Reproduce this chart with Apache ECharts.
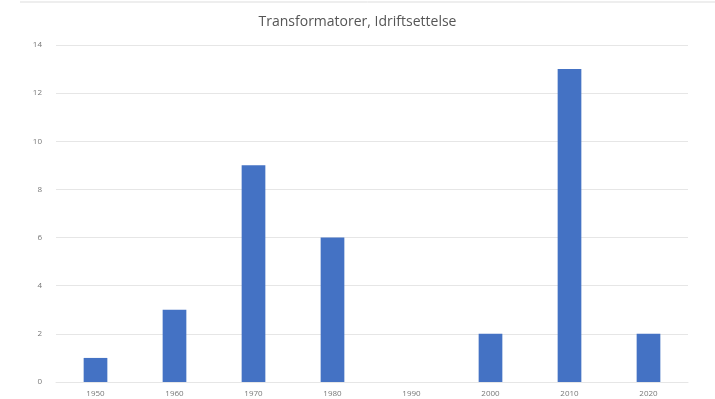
<!DOCTYPE html>
<html>
<head>
<meta charset="utf-8">
<script src="https://cdn.jsdelivr.net/npm/echarts@6/dist/echarts.min.js"></script>
<style>
  html, body { margin: 0; padding: 0; background: #fff; }
  #chart { width: 715px; height: 399px; }
</style>
</head>
<body>
<div id="chart"></div>
<script>
// data
var years = ['1950', '1960', '1970', '1980', '1990', '2000', '2010', '2020'];
var counts = [1, 3, 9, 6, 0, 2, 13, 2];
var yTicks = [0, 2, 4, 6, 8, 10, 12, 14];

var chart = echarts.init(document.getElementById('chart'));
chart.setOption({
  backgroundColor: '#fff',
  animation: false,
  title: {
    text: 'Transformatorer, Idriftsettelse',
    left: 'center',
    top: 10,
    textStyle: { fontFamily: 'Open Sans', fontSize: 14, fontWeight: 'normal', color: '#555' }
  },
  graphic: [{
    type: 'line',
    shape: { x1: 20, y1: 2, x2: 715, y2: 2 },
    style: { stroke: '#ddd', lineWidth: 1 }
  }],
  grid: { left: 56, right: 27, top: 45, bottom: 17 },
  xAxis: {
    type: 'category',
    data: years,
    axisLine: { show: true, lineStyle: { color: '#e6e6e6' } },
    axisTick: { show: false },
    axisLabel: { color: '#777', fontSize: 8, margin: 8, fontFamily: 'Open Sans' }
  },
  yAxis: {
    type: 'value',
    min: yTicks[0],
    max: yTicks[yTicks.length - 1],
    interval: 2,
    axisLine: { show: false },
    axisTick: { show: false },
    axisLabel: { color: '#777', fontSize: 8, margin: 14, fontFamily: 'Open Sans' },
    splitLine: { lineStyle: { color: '#e6e6e6' } }
  },
  series: [{
    type: 'bar',
    data: counts,
    barWidth: '30%',
    itemStyle: { color: '#4472C4' }
  }]
});
</script>
</body>
</html>
